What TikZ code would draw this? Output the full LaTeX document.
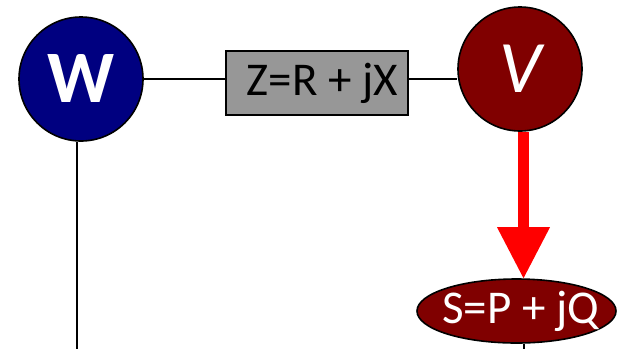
\documentclass[tikz,border=0pt]{standalone}
\usepackage{fontspec}
\setmainfont{Carlito}
\usetikzlibrary{shapes.geometric,arrows.meta}
\definecolor{wnavy}{HTML}{000080}
\definecolor{vmaroon}{HTML}{800000}
\definecolor{boxgray}{HTML}{979797}
\tikzset{
  bus/.style={circle, draw=black, line width=1.6pt, minimum size=124pt, inner sep=0pt, text=white},
  imped/.style={rectangle, draw=black, line width=1.6pt, fill=boxgray, minimum width=182pt, minimum height=64pt, inner sep=0pt, font=\fontsize{47}{47}\selectfont},
  load/.style={ellipse, draw=black, line width=1.6pt, fill=vmaroon, minimum width=199pt, minimum height=64pt, inner sep=0pt, text=white, font=\fontsize{47}{47}\selectfont},
  wire/.style={draw=black, line width=2pt},
  flow/.style={draw=red, line width=11pt, -{Triangle[width=53pt,length=51pt,line width=0pt]}}
}
\begin{document}
\begin{tikzpicture}[x=1pt,y=-1pt]
\useasboundingbox (0,0) rectangle (617,349);
% nodes
\node[bus, fill=wnavy, font=\fontsize{74}{74}\selectfont\bfseries] (W) at (81,79) {W};
\node[imped] (Z) at (317,83) {\makebox[0pt]{\hspace*{11pt}Z=R + jX}};
\node[bus, fill=vmaroon, font=\fontsize{74}{74}\selectfont\itshape] (V) at (520,69) {\raisebox{-2pt}{V}};
\node[load] (S) at (516.5,311) {\makebox[0pt]{\hspace*{8pt}S=P + jQ}};
% helper coordinates
\coordinate (wx) at (77,349);
\coordinate (ax) at (523.5,349);
% wires
\draw[wire] (W.east) -- (Z.west |- W.east);
\draw[wire] (Z.east |- W.east) -- (V.west |- W.east);
\draw[wire] (W.south -| wx) -- (wx);
\draw[wire] (S.south -| ax) -- (ax);
% power flow arrow
\draw[flow] (V.south -| ax) -- (S.north -| ax);
\end{tikzpicture}
\end{document}
